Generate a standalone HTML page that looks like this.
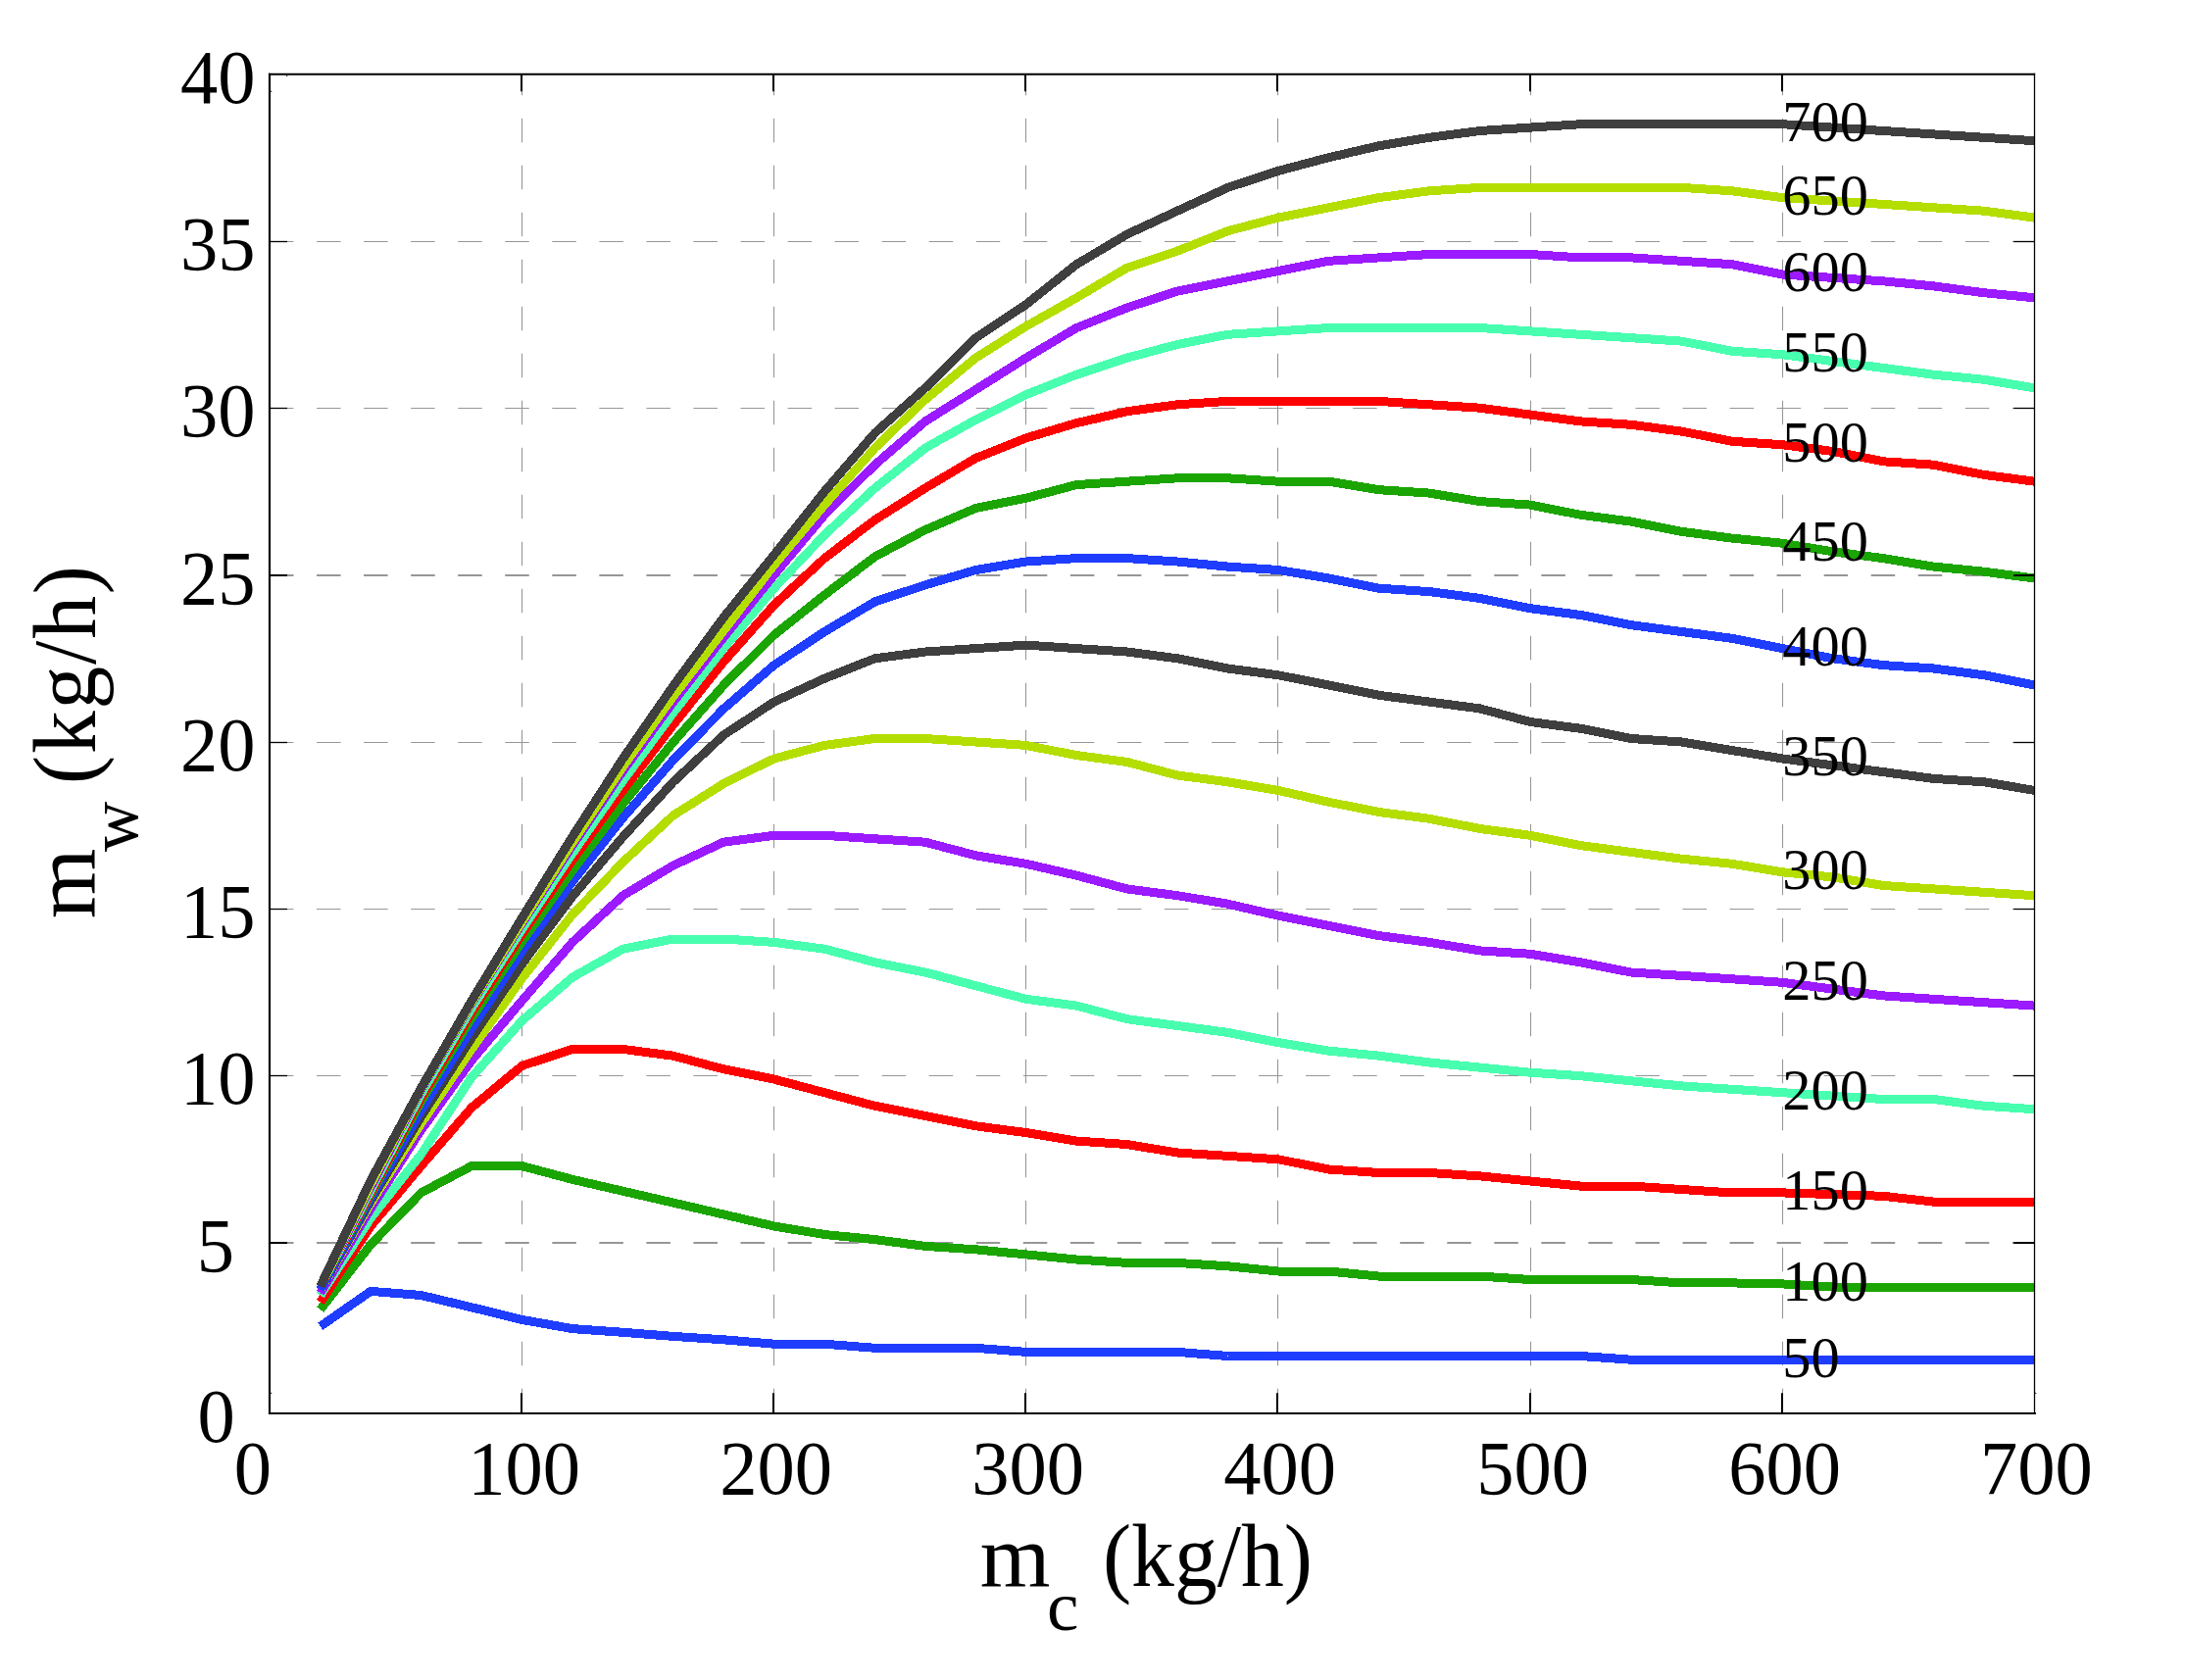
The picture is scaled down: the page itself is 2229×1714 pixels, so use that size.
<!DOCTYPE html>
<html lang="en"><head><meta charset="utf-8"><title>m_w versus m_c</title>
<style>html,body{margin:0;padding:0;background:#fff}body{width:2229px;height:1714px;overflow:hidden}svg{display:block}text{font-family:"Liberation Serif",serif;fill:#000}</style></head><body>
<svg width="2229" height="1714" viewBox="0 0 2229 1714">
<rect x="0" y="0" width="2229" height="1714" fill="#fff"/>
<g stroke="#969696" fill="none">
<line x1="532.50" y1="1441.30" x2="532.50" y2="75.85" stroke-width="1.1" stroke-dasharray="24.5 23.5"/>
<line x1="789.50" y1="1441.30" x2="789.50" y2="75.85" stroke-width="1.1" stroke-dasharray="24.5 23.5"/>
<line x1="1046.50" y1="1441.30" x2="1046.50" y2="75.85" stroke-width="1.1" stroke-dasharray="24.5 23.5"/>
<line x1="1303.50" y1="1441.30" x2="1303.50" y2="75.85" stroke-width="1.1" stroke-dasharray="24.5 23.5"/>
<line x1="1561.50" y1="1441.30" x2="1561.50" y2="75.85" stroke-width="1.1" stroke-dasharray="24.5 23.5"/>
<line x1="1818.50" y1="1441.30" x2="1818.50" y2="75.85" stroke-width="1.1" stroke-dasharray="24.5 23.5"/>
<line x1="275.00" y1="246.50" x2="2075.50" y2="246.50" stroke-width="1.10" stroke-dasharray="24.5 23.55"/>
<line x1="275.00" y1="416.50" x2="2075.50" y2="416.50" stroke-width="1.10" stroke-dasharray="24.5 23.55"/>
<line x1="275.00" y1="587.00" x2="2075.50" y2="587.00" stroke-width="2.10" stroke-dasharray="24.5 23.55"/>
<line x1="275.00" y1="757.50" x2="2075.50" y2="757.50" stroke-width="1.10" stroke-dasharray="24.5 23.55"/>
<line x1="275.00" y1="927.50" x2="2075.50" y2="927.50" stroke-width="1.10" stroke-dasharray="24.5 23.55"/>
<line x1="275.00" y1="1097.50" x2="2075.50" y2="1097.50" stroke-width="1.10" stroke-dasharray="24.5 23.55"/>
<line x1="275.00" y1="1268.00" x2="2075.50" y2="1268.00" stroke-width="2.10" stroke-dasharray="24.5 23.55"/>
</g>
<g fill="none" stroke-width="9" stroke-linejoin="miter" stroke-linecap="butt" shape-rendering="crispEdges">
<polyline stroke="#1f3dff" points="326.8,1353.2 378.2,1317.4 429.6,1321.5 481.1,1333.8 532.5,1346.4 583.9,1355.6 635.4,1359.3 686.8,1363.4 738.2,1366.8 789.6,1371.2 841.1,1371.2 892.5,1375.3 943.9,1375.3 995.4,1375.3 1046.8,1379.4 1098.2,1379.4 1149.7,1379.4 1201.1,1379.4 1252.5,1383.5 1303.9,1383.5 1355.4,1383.5 1406.8,1383.5 1458.2,1383.5 1509.7,1383.5 1561.1,1383.5 1612.5,1383.5 1664.0,1387.2 1715.4,1387.2 1766.8,1387.2 1818.2,1387.2 1869.7,1387.2 1921.1,1387.2 1972.5,1387.2 2024.0,1387.2 2075.4,1387.2"/>
<polyline stroke="#1ba503" points="326.8,1336.1 378.2,1269.7 429.6,1216.9 481.1,1189.6 532.5,1189.6 583.9,1203.3 635.4,1215.2 686.8,1227.1 738.2,1239.0 789.6,1251.0 841.1,1259.5 892.5,1264.6 943.9,1271.4 995.4,1274.8 1046.8,1279.9 1098.2,1285.0 1149.7,1288.4 1201.1,1288.4 1252.5,1291.8 1303.9,1297.0 1355.4,1297.0 1406.8,1302.1 1458.2,1302.1 1509.7,1302.1 1561.1,1305.5 1612.5,1305.5 1664.0,1305.5 1715.4,1308.9 1766.8,1308.9 1818.2,1309.9 1869.7,1313.0 1921.1,1313.0 1972.5,1313.0 2024.0,1313.0 2075.4,1313.0"/>
<polyline stroke="#fe0100" points="326.8,1328.6 378.2,1251.0 429.6,1189.6 481.1,1130.0 532.5,1087.4 583.9,1070.4 635.4,1070.4 686.8,1077.2 738.2,1090.8 789.6,1101.1 841.1,1114.7 892.5,1128.3 943.9,1138.5 995.4,1148.8 1046.8,1155.6 1098.2,1164.1 1149.7,1167.5 1201.1,1176.0 1252.5,1179.4 1303.9,1182.8 1355.4,1193.0 1406.8,1196.5 1458.2,1196.5 1509.7,1199.9 1561.1,1205.0 1612.5,1210.1 1664.0,1210.1 1715.4,1213.5 1766.8,1216.9 1818.2,1216.9 1869.7,1218.6 1921.1,1220.3 1972.5,1226.1 2024.0,1226.1 2075.4,1226.1"/>
<polyline stroke="#48ffaf" points="326.8,1321.5 378.2,1242.8 429.6,1177.7 481.1,1099.0 532.5,1041.4 583.9,997.1 635.4,968.2 686.8,958.0 738.2,958.0 789.6,961.4 841.1,968.2 892.5,981.8 943.9,992.0 995.4,1005.7 1046.8,1019.3 1098.2,1026.1 1149.7,1039.7 1201.1,1046.5 1252.5,1053.4 1303.9,1063.6 1355.4,1072.1 1406.8,1077.2 1458.2,1084.0 1509.7,1089.1 1561.1,1094.2 1612.5,1097.7 1664.0,1102.8 1715.4,1107.9 1766.8,1111.3 1818.2,1114.7 1869.7,1118.1 1921.1,1121.5 1972.5,1121.5 2024.0,1128.3 2075.4,1131.7"/>
<polyline stroke="#9b1aff" points="326.8,1319.1 378.2,1233.0 429.6,1152.9 481.1,1081.8 532.5,1021.0 583.9,961.4 635.4,913.7 686.8,883.0 738.2,859.2 789.6,852.3 841.1,852.3 892.5,855.8 943.9,859.2 995.4,872.8 1046.8,881.3 1098.2,893.2 1149.7,906.9 1201.1,913.7 1252.5,922.2 1303.9,934.1 1355.4,944.3 1406.8,954.6 1458.2,961.4 1509.7,969.9 1561.1,973.3 1612.5,981.8 1664.0,992.0 1715.4,995.4 1766.8,998.8 1818.2,1002.3 1869.7,1009.1 1921.1,1015.9 1972.5,1019.3 2024.0,1022.7 2075.4,1026.1"/>
<polyline stroke="#b4de00" points="326.8,1315.7 378.2,1227.5 429.6,1146.2 481.1,1070.5 532.5,998.3 583.9,933.2 635.4,879.6 686.8,831.9 738.2,799.5 789.6,774.0 841.1,760.4 892.5,753.5 943.9,753.5 995.4,757.0 1046.8,760.4 1098.2,770.6 1149.7,777.4 1201.1,791.0 1252.5,797.8 1303.9,806.4 1355.4,818.3 1406.8,828.5 1458.2,835.3 1509.7,845.5 1561.1,852.3 1612.5,862.6 1664.0,869.4 1715.4,876.2 1766.8,881.3 1818.2,889.8 1869.7,894.9 1921.1,903.5 1972.5,906.9 2024.0,910.3 2075.4,913.7"/>
<polyline stroke="#3f3f3f" points="326.8,1315.7 378.2,1224.9 429.6,1139.1 481.1,1059.0 532.5,983.4 583.9,914.6 635.4,854.0 686.8,797.8 738.2,749.9 789.6,716.1 841.1,692.2 892.5,671.8 943.9,665.0 995.4,661.6 1046.8,658.1 1098.2,661.6 1149.7,665.0 1201.1,671.8 1252.5,682.0 1303.9,688.8 1355.4,699.0 1406.8,709.3 1458.2,716.1 1509.7,722.9 1561.1,736.5 1612.5,743.3 1664.0,753.5 1715.4,757.0 1766.8,765.5 1818.2,774.0 1869.7,780.8 1921.1,787.6 1972.5,794.4 2024.0,797.8 2075.4,806.4"/>
<polyline stroke="#1f3dff" points="326.8,1315.7 378.2,1222.5 429.6,1133.0 481.1,1049.3 532.5,970.4 583.9,899.5 635.4,834.5 686.8,775.4 738.2,723.1 789.6,678.6 841.1,644.5 892.5,613.9 943.9,596.8 995.4,581.5 1046.8,573.0 1098.2,569.6 1149.7,569.6 1201.1,573.0 1252.5,578.1 1303.9,581.5 1355.4,590.0 1406.8,600.2 1458.2,603.6 1509.7,610.4 1561.1,620.7 1612.5,627.5 1664.0,637.7 1715.4,644.5 1766.8,651.3 1818.2,661.6 1869.7,671.8 1921.1,678.6 1972.5,682.0 2024.0,688.8 2075.4,699.0"/>
<polyline stroke="#1ba503" points="326.8,1312.3 378.2,1219.1 429.6,1123.8 481.1,1038.8 532.5,960.8 583.9,888.3 635.4,820.2 686.8,757.2 738.2,699.1 789.6,647.9 841.1,607.0 892.5,567.9 943.9,540.6 995.4,518.5 1046.8,508.2 1098.2,494.6 1149.7,491.2 1201.1,487.8 1252.5,487.8 1303.9,491.2 1355.4,491.2 1406.8,499.7 1458.2,503.1 1509.7,511.6 1561.1,515.1 1612.5,525.3 1664.0,532.1 1715.4,542.3 1766.8,549.1 1818.2,554.2 1869.7,562.8 1921.1,569.6 1972.5,578.1 2024.0,583.2 2075.4,590.0"/>
<polyline stroke="#fe0100" points="326.8,1312.3 378.2,1217.1 429.6,1119.9 481.1,1033.0 532.5,953.0 583.9,877.7 635.4,806.6 686.8,739.5 738.2,675.1 789.6,617.3 841.1,569.6 892.5,530.4 943.9,498.0 995.4,467.4 1046.8,446.9 1098.2,431.6 1149.7,419.7 1201.1,412.8 1252.5,409.4 1303.9,409.4 1355.4,409.4 1406.8,409.4 1458.2,412.8 1509.7,416.2 1561.1,423.1 1612.5,429.9 1664.0,433.3 1715.4,440.1 1766.8,450.3 1818.2,453.7 1869.7,460.5 1921.1,470.8 1972.5,474.2 2024.0,484.4 2075.4,491.2"/>
<polyline stroke="#48ffaf" points="326.8,1312.3 378.2,1214.4 429.6,1116.0 481.1,1028.6 532.5,948.1 583.9,870.7 635.4,796.7 686.8,727.2 738.2,661.4 789.6,600.2 841.1,545.7 892.5,498.0 943.9,457.1 995.4,428.2 1046.8,402.6 1098.2,382.2 1149.7,365.1 1201.1,351.5 1252.5,341.3 1303.9,337.9 1355.4,334.5 1406.8,334.5 1458.2,334.5 1509.7,334.5 1561.1,337.9 1612.5,341.3 1664.0,344.7 1715.4,348.1 1766.8,358.3 1818.2,361.7 1869.7,368.6 1921.1,375.4 1972.5,382.2 2024.0,387.3 2075.4,395.8"/>
<polyline stroke="#9b1aff" points="326.8,1312.3 378.2,1211.0 429.6,1111.5 481.1,1023.6 532.5,942.1 583.9,862.7 635.4,786.6 686.8,716.1 738.2,650.2 789.6,586.6 841.1,525.3 892.5,474.2 943.9,429.9 995.4,397.5 1046.8,365.1 1098.2,334.5 1149.7,314.0 1201.1,297.0 1252.5,286.8 1303.9,276.6 1355.4,266.3 1406.8,262.9 1458.2,259.5 1509.7,259.5 1561.1,259.5 1612.5,262.9 1664.0,262.9 1715.4,266.3 1766.8,269.7 1818.2,280.0 1869.7,283.4 1921.1,286.8 1972.5,291.9 2024.0,298.7 2075.4,303.8"/>
<polyline stroke="#b4de00" points="326.8,1312.3 378.2,1208.0 429.6,1110.5 481.1,1022.5 532.5,940.3 583.9,859.6 635.4,782.1 686.8,710.4 738.2,643.4 789.6,576.4 841.1,515.1 892.5,457.1 943.9,407.7 995.4,365.1 1046.8,332.8 1098.2,303.8 1149.7,273.2 1201.1,256.1 1252.5,235.7 1303.9,222.1 1355.4,211.8 1406.8,201.6 1458.2,194.8 1509.7,191.4 1561.1,191.4 1612.5,191.4 1664.0,191.4 1715.4,191.4 1766.8,194.8 1818.2,201.6 1869.7,205.0 1921.1,208.4 1972.5,211.8 2024.0,215.2 2075.4,222.1"/>
<polyline stroke="#3f3f3f" points="326.8,1312.3 378.2,1204.2 429.6,1110.0 481.1,1021.0 532.5,936.5 583.9,853.6 635.4,774.0 686.8,699.8 738.2,629.8 789.6,566.2 841.1,501.4 892.5,441.8 943.9,395.8 995.4,344.7 1046.8,310.6 1098.2,269.7 1149.7,239.1 1201.1,215.2 1252.5,191.4 1303.9,174.4 1355.4,160.7 1406.8,148.8 1458.2,140.3 1509.7,133.5 1561.1,130.1 1612.5,126.7 1664.0,126.7 1715.4,126.7 1766.8,126.7 1818.2,126.7 1869.7,130.1 1921.1,133.5 1972.5,136.9 2024.0,140.3 2075.4,143.7"/>
</g>
<g font-size="59.3">
<text transform="translate(1818.3,1404.5) scale(0.985,1)">50</text>
<text transform="translate(1818.3,1327.1) scale(0.985,1)">100</text>
<text transform="translate(1818.3,1234.1) scale(0.985,1)">150</text>
<text transform="translate(1818.3,1131.9) scale(0.985,1)">200</text>
<text transform="translate(1818.3,1019.5) scale(0.985,1)">250</text>
<text transform="translate(1818.3,907.1) scale(0.985,1)">300</text>
<text transform="translate(1818.3,791.2) scale(0.985,1)">350</text>
<text transform="translate(1818.3,678.8) scale(0.985,1)">400</text>
<text transform="translate(1818.3,571.5) scale(0.985,1)">450</text>
<text transform="translate(1818.3,471.0) scale(0.985,1)">500</text>
<text transform="translate(1818.3,379.0) scale(0.985,1)">550</text>
<text transform="translate(1818.3,297.2) scale(0.985,1)">600</text>
<text transform="translate(1818.3,218.9) scale(0.985,1)">650</text>
<text transform="translate(1818.3,143.9) scale(0.985,1)">700</text>
</g>
<g stroke="#000" fill="none">
<line x1="275.00" y1="74.85" x2="275.00" y2="1442.90" stroke-width="2.15"/>
<line x1="273.93" y1="75.85" x2="2076.15" y2="75.85" stroke-width="2.00"/>
<line x1="273.93" y1="1441.90" x2="2077.00" y2="1441.90" stroke-width="2.00"/>
<line x1="2075.50" y1="74.85" x2="2075.50" y2="1442.90" stroke-width="1.30"/>
<line x1="532.00" y1="1441.90" x2="532.00" y2="1421.20" stroke-width="2"/>
<line x1="532.00" y1="75.85" x2="532.00" y2="93.30" stroke-width="2"/>
<line x1="789.00" y1="1441.90" x2="789.00" y2="1421.20" stroke-width="2"/>
<line x1="789.00" y1="75.85" x2="789.00" y2="93.30" stroke-width="2"/>
<line x1="1046.00" y1="1441.90" x2="1046.00" y2="1421.20" stroke-width="2"/>
<line x1="1046.00" y1="75.85" x2="1046.00" y2="93.30" stroke-width="2"/>
<line x1="1303.00" y1="1441.90" x2="1303.00" y2="1421.20" stroke-width="2"/>
<line x1="1303.00" y1="75.85" x2="1303.00" y2="93.30" stroke-width="2"/>
<line x1="1561.00" y1="1441.90" x2="1561.00" y2="1421.20" stroke-width="2"/>
<line x1="1561.00" y1="75.85" x2="1561.00" y2="93.30" stroke-width="2"/>
<line x1="1818.00" y1="1441.90" x2="1818.00" y2="1421.20" stroke-width="2"/>
<line x1="1818.00" y1="75.85" x2="1818.00" y2="93.30" stroke-width="2"/>
<line x1="275.00" y1="246.50" x2="293.00" y2="246.50" stroke-width="1.30"/>
<line x1="2075.50" y1="246.50" x2="2054.20" y2="246.50" stroke-width="1.30"/>
<line x1="275.00" y1="416.50" x2="293.00" y2="416.50" stroke-width="1.30"/>
<line x1="2075.50" y1="416.50" x2="2054.20" y2="416.50" stroke-width="1.30"/>
<line x1="275.00" y1="587.00" x2="293.00" y2="587.00" stroke-width="2.00"/>
<line x1="2075.50" y1="587.00" x2="2054.20" y2="587.00" stroke-width="2.00"/>
<line x1="275.00" y1="757.50" x2="293.00" y2="757.50" stroke-width="1.30"/>
<line x1="2075.50" y1="757.50" x2="2054.20" y2="757.50" stroke-width="1.30"/>
<line x1="275.00" y1="927.50" x2="293.00" y2="927.50" stroke-width="1.30"/>
<line x1="2075.50" y1="927.50" x2="2054.20" y2="927.50" stroke-width="1.30"/>
<line x1="275.00" y1="1097.50" x2="293.00" y2="1097.50" stroke-width="1.30"/>
<line x1="2075.50" y1="1097.50" x2="2054.20" y2="1097.50" stroke-width="1.30"/>
<line x1="275.00" y1="1268.00" x2="293.00" y2="1268.00" stroke-width="2.00"/>
<line x1="2075.50" y1="1268.00" x2="2054.20" y2="1268.00" stroke-width="2.00"/>
<rect x="276.15" y="92.75" width="1.1" height="1.1" fill="#000" stroke="none"/>
<rect x="292.15" y="76.85" width="1.1" height="1.1" fill="#000" stroke="none"/>
<rect x="276.15" y="1420.85" width="1.1" height="1.1" fill="#000" stroke="none"/>
<rect x="2076.15" y="1420.85" width="1.1" height="1.1" fill="#000" stroke="none"/>
</g>
<g font-size="79.3" text-anchor="middle">
<text transform="translate(220.7,1470.8) scale(0.965,1)">0</text>
<text transform="translate(219.9,1296.9) scale(0.965,1)">5</text>
<text transform="translate(222.3,1126.4) scale(0.965,1)">10</text>
<text transform="translate(222.3,956.4) scale(0.965,1)">15</text>
<text transform="translate(222.3,786.4) scale(0.965,1)">20</text>
<text transform="translate(222.3,615.9) scale(0.965,1)">25</text>
<text transform="translate(222.3,445.4) scale(0.965,1)">30</text>
<text transform="translate(222.3,275.4) scale(0.965,1)">35</text>
<text transform="translate(222.3,104.8) scale(0.965,1)">40</text>
<text transform="translate(257.8,1524.4) scale(0.965,1)">0</text>
<text transform="translate(534.5,1524.4) scale(0.965,1)">100</text>
<text transform="translate(791.5,1524.4) scale(0.965,1)">200</text>
<text transform="translate(1048.5,1524.4) scale(0.965,1)">300</text>
<text transform="translate(1305.5,1524.4) scale(0.965,1)">400</text>
<text transform="translate(1563.5,1524.4) scale(0.965,1)">500</text>
<text transform="translate(1820.5,1524.4) scale(0.965,1)">600</text>
<text transform="translate(2077.4,1524.4) scale(0.965,1)">700</text>
</g>
<text transform="translate(999.86,1619.10) scale(0.9217,0.9002)" font-size="100">m</text>
<text transform="translate(1067.92,1663.29) scale(0.7307,0.7110)" font-size="100">c</text>
<text transform="translate(1124.95,1618.39) scale(0.8761,0.9033)" font-size="100">(kg/h)</text>
<text transform="translate(97.10,937.14) rotate(-90) scale(0.9217,0.9002)" font-size="100">m</text>
<text transform="translate(140.49,868.97) rotate(-90) scale(0.7127,0.7122)" font-size="100">w</text>
<text transform="translate(96.69,800.10) rotate(-90) scale(0.8761,0.9033)" font-size="100" letter-spacing="2.07">(kg/h)</text>
</svg>
</body></html>
